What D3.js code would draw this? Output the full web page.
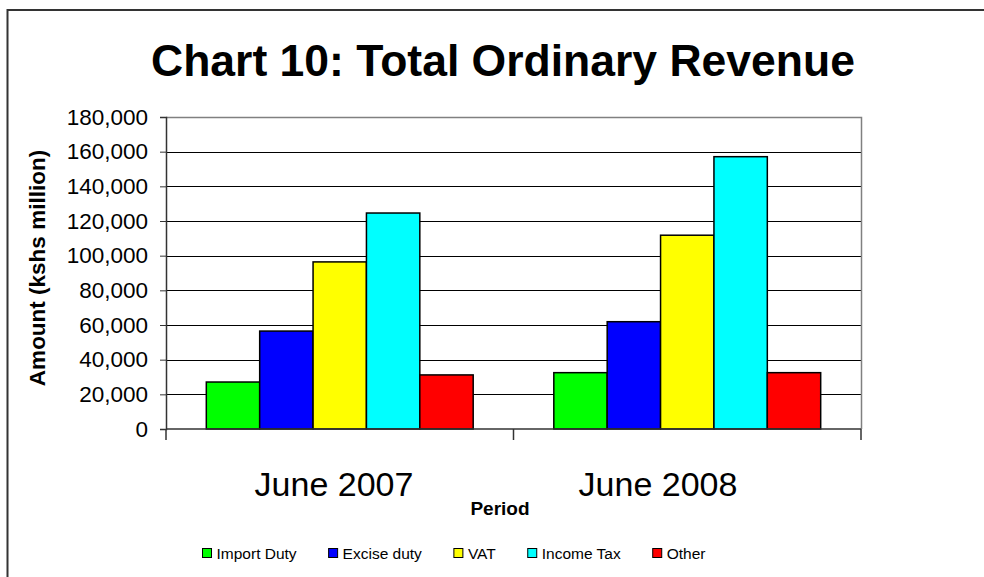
<!DOCTYPE html>
<meta charset="utf-8">
<script src="https://d3js.org/d3.v7.min.js"></script>
<style>
  body { margin: 0; background: #fff; }
  text { font-family: "Liberation Sans", Arial, sans-serif; }
</style>
<div id="my_dataviz"></div>
<script>

// data (kshs million)
var periods = ["June 2007", "June 2008"];
var series = ["Import Duty", "Excise duty", "VAT", "Income Tax", "Other"];
var colors = ["#00ff00", "#0000ff", "#ffff00", "#00ffff", "#ff0000"];
var importDuty = [27100, 32500];
var exciseDuty = [56500, 61900];
var vat = [96400, 111800];
var incomeTax = [124600, 157100];
var other = [31200, 32500];
var yTicks = [0, 20000, 40000, 60000, 80000, 100000, 120000, 140000, 160000, 180000];

var values = [importDuty, exciseDuty, vat, incomeTax, other];
var data = periods.map(function(p, i) {
  return { period: p, bars: series.map(function(s, j) { return { name: s, value: values[j][i], color: colors[j] }; }) };
});

var W = 984, H = 577;
var margin = {top: 117, right: 123, bottom: 148, left: 166},
    width = W - margin.left - margin.right,
    height = H - margin.top - margin.bottom;

var svg = d3.select("#my_dataviz")
  .append("svg")
    .attr("width", W)
    .attr("height", H);

// outer chart border (runs off the right and bottom of the picture)
svg.append("rect")
  .attr("x", 7.5).attr("y", 10)
  .attr("width", 1100).attr("height", 700)
  .attr("fill", "none")
  .attr("stroke", "#333")
  .attr("stroke-width", 2);

// title
svg.append("text")
  .attr("x", 503).attr("y", 76)
  .attr("text-anchor", "middle")
  .style("font-size", "44.5px")
  .style("font-weight", "bold")
  .text("Chart 10: Total Ordinary Revenue");

var g = svg.append("g")
  .attr("transform", "translate(" + margin.left + "," + margin.top + ")");

var x0 = d3.scaleBand().domain(periods).range([0, width]);
var groupW = x0.bandwidth() * 0.768;
var x1 = d3.scaleBand().domain(series)
  .range([(x0.bandwidth() - groupW) / 2, (x0.bandwidth() + groupW) / 2]);
var y = d3.scaleLinear().domain([0, 180000]).range([height, 0]);
// category labels sit a little left of the band centres, as in the original
var xLabel = d3.scalePoint().domain(periods).range([168, 492]);

// gridlines
g.selectAll(".grid")
  .data(yTicks.filter(function(t) { return t > 0 && t < 180000; }))
  .enter().append("line")
    .attr("x1", 0).attr("x2", width)
    .attr("y1", function(d) { return Math.round(y(d)) + 0.5; })
    .attr("y2", function(d) { return Math.round(y(d)) + 0.5; })
    .attr("stroke", "#000")
    .attr("stroke-width", 1);

// plot area top and right edges
g.append("path")
  .attr("d", "M0," + (y(180000) + 0.5) + "H" + (width + 0.5) + "V" + height)
  .attr("fill", "none")
  .attr("stroke", "#808080")
  .attr("stroke-width", 1.5);

// bars
var groups = g.selectAll(".group")
  .data(data)
  .enter().append("g")
    .attr("transform", function(d) { return "translate(" + x0(d.period) + ",0)"; });

groups.selectAll("rect")
  .data(function(d) { return d.bars; })
  .enter().append("rect")
    .attr("x", function(d) { return x1(d.name); })
    .attr("y", function(d) { return y(d.value); })
    .attr("width", x1.bandwidth())
    .attr("height", function(d) { return height - y(d.value); })
    .attr("fill", function(d) { return d.color; })
    .attr("stroke", "#000")
    .attr("stroke-width", 1.5);

// y axis
var yAxis = g.append("g")
  .call(d3.axisLeft(y).tickValues(yTicks).tickFormat(d3.format(",")).tickSize(6).tickPadding(12));
yAxis.select(".domain").attr("stroke", "#333").attr("stroke-width", 1.5);
yAxis.selectAll(".tick line").attr("stroke", "#333");
yAxis.selectAll("text")
  .style("font-size", "22.5px")
  .attr("fill", "#000")
  .style("font-family", "Liberation Sans, Arial, sans-serif");

// x axis baseline and category ticks
g.append("line")
  .attr("x1", 0).attr("x2", width)
  .attr("y1", height).attr("y2", height)
  .attr("stroke", "#333").attr("stroke-width", 1.5);

var bounds = periods.map(function(p) { return x0(p); }).concat([width]);
g.selectAll(".xtick")
  .data(bounds)
  .enter().append("line")
    .attr("x1", function(d) { return d; }).attr("x2", function(d) { return d; })
    .attr("y1", height).attr("y2", height + 11)
    .attr("stroke", "#333").attr("stroke-width", 1.5);

g.selectAll(".xlabel")
  .data(periods)
  .enter().append("text")
    .attr("x", function(d) { return xLabel(d); })
    .attr("y", height + 67)
    .attr("text-anchor", "middle")
    .style("font-size", "34px")
    .text(function(d) { return d; });

// axis titles
svg.append("text")
  .attr("x", 500).attr("y", 515)
  .attr("text-anchor", "middle")
  .style("font-size", "19px")
  .style("font-weight", "bold")
  .text("Period");

svg.append("text")
  .attr("transform", "translate(45,268) rotate(-90)")
  .attr("text-anchor", "middle")
  .style("font-size", "22.5px")
  .style("font-weight", "bold")
  .text("Amount (kshs million)");

// legend
var legend = svg.append("g").attr("transform", "translate(0,553)");
var item = legend.selectAll(".item")
  .data(series)
  .enter().append("g");
item.append("rect")
  .attr("x", 0).attr("y", -4.5)
  .attr("width", 9).attr("height", 9)
  .attr("fill", function(d, i) { return colors[i]; })
  .attr("stroke", "#000").attr("stroke-width", 1);
item.append("text")
  .attr("x", 14).attr("y", 6)
  .style("font-size", "15.5px")
  .text(function(d) { return d; });

var gap = 32, xpos = 0, positions = [];
item.each(function() {
  positions.push(xpos);
  xpos += 14 + d3.select(this).select("text").node().getComputedTextLength() + gap;
});
var total = xpos - gap;
var start = 454 - total / 2;
item.attr("transform", function(d, i) { return "translate(" + (start + positions[i]) + ",0)"; });

</script>
